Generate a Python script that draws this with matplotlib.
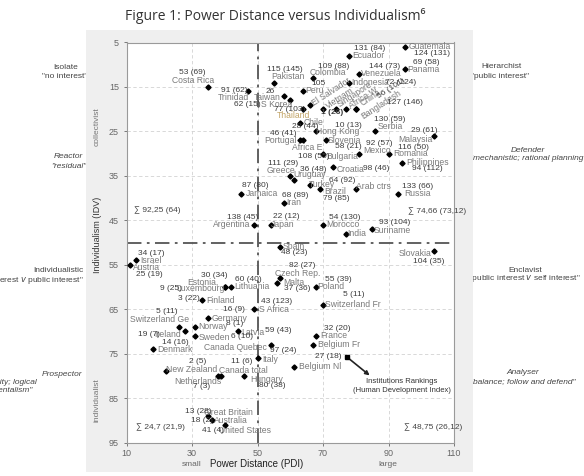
import matplotlib
matplotlib.use("Agg")
import matplotlib.pyplot as plt
from matplotlib.patches import Rectangle

plt.rcParams['font.family'] = ['Liberation Sans', 'DejaVu Sans']

# ---- data: Hofstede scores and institution rankings (HDI) ----
countries = ["Guatemala", "Ecuador", "Panama", "Venezuela", "Colombia", "Indonesia",
             "Pakistan", "Costa Rica", "Peru", "Trinidad", "Taiwan", "S Korea",
             "El Salvador", "Vietnam", "Singapore", "Africa W", "China", "Bangladesh",
             "Thailand", "Chile", "Hong Kong", "Serbia", "Malaysia", "Portugal",
             "Africa E", "Slovenia", "Mexico", "Bulgaria", "Romania", "Philippines",
             "Greece", "Croatia", "Uruguay", "Turkey", "Brazil", "Arab ctrs",
             "Russia", "Jamaica", "Iran", "Argentina", "Japan", "Morocco",
             "India", "Suriname", "Spain", "Slovakia", "Israel", "Austria",
             "Czech Rep.", "Malta", "Poland", "Estonia,", "Luxembourg", "Lithuania",
             "Finland", "Switzerland Fr", "S Africa", "Germany", "Switzerland Ge", "Norway",
             "Latvia", "Ireland", "Sweden", "France", "Belgium Fr", "Canada Quebec",
             "Denmark", "Italy", "Belgium Nl", "New Zealand", "Canada total", "Hungary",
             "Netherlands", "Great Britain", "Australia", "United States"]
pdi = [95, 78, 95, 81, 67, 78,
       55, 35, 64, 47, 58, 60,
       66, 70, 74, 77, 80, 80,
       64, 63, 68, 86, 104, 63,
       64, 71, 81, 70, 90, 94,
       60, 73, 61, 66, 69, 80,
       93, 45, 58, 49, 54, 70,
       77, 85, 57, 104, 13, 11,
       57, 56, 68, 40, 40, 42,
       33, 70, 49, 35, 26, 31,
       44, 28, 31, 68, 67, 54,
       18, 50, 61, 22, 39, 46,
       38, 35, 36, 40]
idv = [6, 8, 11, 12, 13, 14,
       14, 15, 16, 16, 17, 18,
       19, 20, 20, 20, 20, 20,
       20, 23, 25, 25, 26, 27,
       27, 27, 30, 30, 30, 32,
       35, 33, 36, 37, 38, 38,
       39, 39, 41, 46, 46, 46,
       48, 47, 51, 52, 54, 55,
       58, 59, 60, 60, 60, 60,
       63, 64, 65, 67, 69, 69,
       70, 70, 71, 71, 73, 73,
       74, 76, 78, 79, 80, 80,
       80, 89, 90, 91]
ranks = ["124 (131)", "131 (84)", "69 (58)", "144 (73)", "109 (88)", "72 (124)",
         "115 (145)", "53 (69)", "105", "91 (62)", "26", "62 (15)",
         "", "", "1 (26)", "", "56 (101)", "127 (146)",
         "77 (103)", "28 (44)", "10 (13)", "130 (59)", "29 (61)", "46 (41)",
         "", "58 (21)", "92 (57)", "108 (55)", "116 (50)", "94 (112)",
         "111 (29)", "98 (46)", "36 (48)", "64 (92)", "79 (85)", "",
         "133 (66)", "87 (80)", "68 (89)", "138 (45)", "22 (12)", "54 (130)",
         "", "93 (104)", "48 (23)", "104 (35)", "34 (17)", "25 (19)",
         "82 (27)", "37 (36)", "55 (39)", "30 (34)", "9 (25)", "60 (40)",
         "3 (22)", "5 (11)", "43 (123)", "16 (9)", "5 (11)", "8 (1)",
         "59 (43)", "19 (7)", "6 (10)", "32 (20)", "", "97 (24)",
         "14 (16)", "", "", "2 (5)", "11 (6)", "80 (38)",
         "7 (3)", "13 (28)", "18 (2)", "41 (4)"]

sums = ["∑ 92,25 (64)", "∑ 74,66 (73,12)", "∑ 24,7 (21,9)", "∑ 48,75 (26,12)"]
sum_pdi = [12.4, 96, 12.9, 94.7]
sum_idv = [42.7, 43, 91.6, 91.6]

key_pdi, key_idv, key_rank = 77.2, 75.7, "27 (18)"

# ---- label layout: pixel offsets (dx right, dy down) ----
name_off = [(24.6, 0), (19.6, 0), (18.5, 0), (22.3, 0), (15, -5.4), (20.8, 0),
            (14, -6), (-15.7, -6.3), (11.6, -1), (-14, 6), (-16, 2), (-13.6, 4.7),
            (3, -1), (4, -2), (2, -4), (4, -2), (6, -5), (6, 8),
            (-10, 6), (13, 0), (21, 0), (14.6, -4.7), (-18.6, 3.2), (-20, 0),
            (4, 7), (18.4, 0), (17.7, -3), (19.5, 3), (22.3, 0), (26, 0),
            (-9.5, -5.8), (17.2, 3), (15.7, -5.3), (11.8, 0), (15.3, 2.5), (18, -2.5),
            (19, 0), (20.6, 0), (10.5, 0), (-22.5, 0), (12, 0), (19.5, 0),
            (11, 0), (20, 1), (13, 0), (-19, 2), (15, 0), (17, 3),
            (17, -4.7), (17, 0), (14.7, 0), (-22.2, -4.6), (-23.9, 1.4), (21, 0),
            (19, 0), (30.3, 0), (19.6, 0), (21.6, 0), (-19.7, -7.2), (18, 0),
            (15.4, 1), (-18, 3), (18.7, 1.5), (17.5, 0), (25.6, 0), (-35.6, 3),
            (22.3, 0), (12.5, 1), (26.5, 0), (26, -2), (21.8, -5.8), (22.3, 3.2),
            (-20, 5.2), (20, -3.5), (19, 0), (20.3, 6)]
num_off = [(27, 7), (20, -7.5), (21, -7), (26, -7), (20.6, -12), (51.3, -0.5),
           (11, -13), (-16, -14.7), (14.7, -8), (-13.7, -0.7), (-13.7, -4.8), (-43.3, 4),
           None, None, (-4, 3), None, (22, -12), (49.5, -6.5),
           (-13.4, 0), (5, 4.5), (31.5, -5.4), (14.6, -12), (-10.4, -5.8), (-17, -6.6),
           None, (22, 6.4), (20, -10), (-9.7, 2.4), (25, -6.3), (26, 5.8),
           (-7, -12.5), (43, 1.4), (20, -11), (31.8, -4.7), (17, 9.8), None,
           (19.6, -7.6), (14, -8), (11.3, -6.8), (-11.7, -7.4), (16, -8), (22, -7),
           None, (22, -7), (13.6, 6), (-5.6, 10.3), (15.4, -7), (20, 9.3),
           (22, -12.3), (19.6, 5.8), (21.8, -7.6), (-10.2, -11), (-53.9, 2), (17, -7),
           (-13, -1.3), (30.3, -10.7), (22.5, -7.8), (25.6, -8.3), (-12.2, -15.2), (39.7, -3),
           (40.4, -0.7), (-37, 3), (46.4, 1), (21, -7.5), None, (12.7, 5.3),
           (23, -6.4), None, None, (31.7, -9.7), (20.2, -14.1), (27.6, 10),
           (-16.5, 10.2), (-10, -4), (-10, 0), (-12, 6)]
rotated = ["El Salvador", "Vietnam", "Singapore", "Africa W", "China", "Bangladesh"]

name_col = '#7a7a7a'
num_col = '#3c3c3c'

fig = plt.figure(figsize=(5.84, 4.76), dpi=100)
fig.patches.append(Rectangle((86 / 584, 1 - 472 / 476), (473 - 86) / 584, (472 - 30) / 476,
                             transform=fig.transFigure, facecolor='#efefef',
                             edgecolor='none', zorder=1))
ax = fig.add_axes([126.5 / 584, 1 - 442.5 / 476, 327.5 / 584, 400 / 476])
ax.set_zorder(2)
ax.set_facecolor('white')

ax.set_xlim(10, 110)
ax.set_ylim(95, 5)
ax.set_xticks([10, 30, 50, 70, 90, 110])
ax.set_yticks(range(5, 96, 10))
ax.tick_params(labelsize=6.5, colors='#666666', length=2.5, width=0.6, pad=3)
ax.tick_params(axis='x', pad=2)
for s in ax.spines.values():
    s.set_color('#9a9a9a')
    s.set_linewidth(0.8)
ax.grid(True, color='#d2d2d2', linestyle=(0, (4, 3)), linewidth=0.6)
ax.set_axisbelow(True)

ax.axvline(50, color='#555555', lw=1.3, linestyle=(0, (8, 3, 1.5, 3)), zorder=2)
ax.axhline(50, color='#555555', lw=1.3, linestyle=(0, (8, 3, 1.5, 3)), zorder=2)

ax.plot(pdi, idv, 'D', color='black', markersize=2.6, zorder=4)

for i, c in enumerate(countries):
    dx, dy = name_off[i]
    if c in rotated:
        ax.annotate(c, (pdi[i], idv[i]), xytext=(dx, -dy), textcoords='offset pixels',
                    ha='left', va='center', rotation=33, rotation_mode='anchor',
                    fontsize=6.2, color=name_col, zorder=5)
    else:
        col = '#c2a466' if c == "Thailand" else name_col
        ax.annotate(c, (pdi[i], idv[i]), xytext=(dx, -dy), textcoords='offset pixels',
                    ha='center', va='center', fontsize=6.2, color=col, zorder=5)
    if num_off[i] is not None and ranks[i]:
        nx, ny = num_off[i]
        if c == "China":
            ax.annotate(ranks[i], (pdi[i], idv[i]), xytext=(nx, -ny), textcoords='offset pixels',
                        ha='left', va='center', rotation=33, rotation_mode='anchor',
                        fontsize=6, color=num_col, zorder=5)
        else:
            ax.annotate(ranks[i], (pdi[i], idv[i]), xytext=(nx, -ny), textcoords='offset pixels',
                        ha='center', va='center', fontsize=6, color=num_col, zorder=5,
                        fontweight='bold' if c == "Singapore" else 'normal')

for t, x, y in zip(sums, sum_pdi, sum_idv):
    ax.text(x, y, t, ha='left', va='center', fontsize=6, color='#444444')

# legend key: rankings
ax.plot([key_pdi], [key_idv], 's', color='black', markersize=3.5, zorder=4)
ax.annotate(key_rank, (key_pdi, key_idv), xytext=(-18.4, 0), textcoords='offset pixels',
            ha='center', va='center', fontsize=6, color=num_col)
ax.annotate('', xy=(84.9, 80.3), xytext=(key_pdi, key_idv),
            arrowprops=dict(arrowstyle='-|>', color='#222222', lw=1.2, mutation_scale=6))
ax.text(94, 82.3, "Institutions Rankings\n(Human Development Index)", ha='center', va='center',
        fontsize=5.5, color='#333333', linespacing=1.3)

# axis labels
fig.text(257 / 584, 1 - 464 / 476, "Power Distance (PDI)", ha='center', va='center',
         fontsize=7, color='#222222', zorder=3)
fig.text(192 / 584, 1 - 464 / 476, "small", ha='center', va='center', fontsize=6, color='#666666', zorder=3)
fig.text(388 / 584, 1 - 464 / 476, "large", ha='center', va='center', fontsize=6, color='#666666', zorder=3)
fig.text(97 / 584, 1 - 235 / 476, "Individualism (IDV)", rotation=90, ha='center', va='center',
         fontsize=6.5, color='#333333', zorder=3)
fig.text(97 / 584, 1 - 127 / 476, "collectivist", rotation=90, ha='center', va='center',
         fontsize=6, color='#777777', zorder=3)
fig.text(97 / 584, 1 - 400 / 476, "individualist", rotation=90, ha='center', va='center',
         fontsize=6, color='#777777', zorder=3)

# side annotations
side = dict(fontsize=6, color='#444444', zorder=0.5, va='center')
fig.text(66 / 584, 1 - 68 / 476, "Isolate", ha='center', **side)
fig.text(65 / 584, 1 - 77 / 476, '"no interest"', ha='center', **side)
fig.text(68 / 584, 1 - 157 / 476, "Reactor", ha='center', style='italic', **side)
fig.text(69 / 584, 1 - 166 / 476, '"residual"', ha='center', style='italic', **side)
fig.text(84 / 584, 1 - 271 / 476, "Individualistic", ha='right', **side)
fig.text(84 / 584, 1 - 280 / 476, '"self interest $\\it{v}$ public interest"', ha='right', **side)
fig.text(82 / 584, 1 - 374 / 476, "Prospector", ha='right', style='italic', **side)
fig.text(37 / 584, 1 - 382 / 476, '"creativity; logical', ha='right', style='italic', **side)
fig.text(33 / 584, 1 - 391 / 476, 'incrementalism"', ha='right', style='italic', **side)

fig.text(501 / 584, 1 - 67 / 476, "Hierarchist", ha='center', **side)
fig.text(500 / 584, 1 - 77 / 476, '"public interest"', ha='center', **side)
fig.text(528 / 584, 1 - 150 / 476, "Defender", ha='center', style='italic', **side)
fig.text(528 / 584, 1 - 159 / 476, '"mechanistic; rational planning"', ha='center', style='italic', **side)
fig.text(525 / 584, 1 - 270 / 476, "Enclavist", ha='center', **side)
fig.text(525 / 584, 1 - 279 / 476, '"public interest $\\it{v}$ self interest"', ha='center', **side)
fig.text(523 / 584, 1 - 373 / 476, "Analyser", ha='center', style='italic', **side)
fig.text(523 / 584, 1 - 382 / 476, '"balance; follow and defend"', ha='center', style='italic', **side)

fig.text(275 / 584, 1 - 16 / 476, "Figure 1: Power Distance versus Individualism\u2076",
         ha='center', va='center', fontsize=10, color='#333333',
         family=['Open Sans', 'DejaVu Sans'])

fig.savefig("out.png", dpi=100)
